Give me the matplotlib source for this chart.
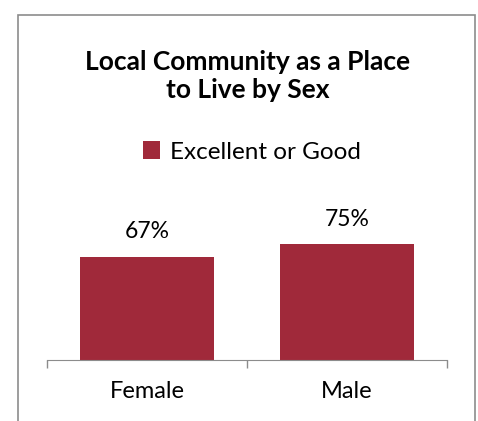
import matplotlib.pyplot as plt
from matplotlib.patches import Rectangle

categories = ['Female', 'Male']
values = [0.67, 0.75]
series_name = 'Excellent or Good'
title = 'Local Community as a Place\nto Live by Sex'

bar_color = '#A0293A'
plt.rcParams['font.family'] = ['Lato', 'DejaVu Sans']

fig = plt.figure(figsize=(4.78, 4.21), dpi=100)
fig.patch.set_facecolor('white')

# outer chart border
fig.patches.append(Rectangle((18/478, -0.02), (475-18)/478, 1.02 - 15/421,
                             transform=fig.transFigure, fill=False,
                             edgecolor='#8c8c8c', linewidth=1.2))

ax = fig.add_axes([47/478, 61/421, 400/478, 123.4/421])
x = range(len(categories))
bars = ax.bar(x, values, width=0.667, color=bar_color, label=series_name)
ax.set_xlim(-0.5, len(categories) - 0.5)
ax.set_ylim(0, 0.8)

for b, v in zip(bars, values):
    ax.text(b.get_x() + b.get_width()/2, v + 0.12, f'{v:.0%}',
            ha='center', va='baseline', fontsize=16.5, clip_on=False)

for s in ['top', 'right', 'left']:
    ax.spines[s].set_visible(False)
ax.spines['bottom'].set_color('#8c8c8c')
ax.set_yticks([])
ax.set_xticks(list(x))
ax.set_xticklabels(categories, fontsize=17)
ax.tick_params(axis='x', which='major', length=0, pad=15)
ax.set_xticks([-0.5, 0.5, 1.5], minor=True)
ax.tick_params(axis='x', which='minor', length=6, color='#8c8c8c', width=1)

fig.text(248/478, 1 - 76/421, title, ha='center', va='center',
         fontsize=19, fontweight='bold', linespacing=1.25)

fig.legend(handles=[bars], labels=[series_name], loc='center',
           bbox_to_anchor=(252/478, 1 - 152/421), frameon=False,
           fontsize=17.5, handlelength=0.7, handleheight=0.7, handletextpad=0.4)

plt.savefig('out.png', dpi=100)
